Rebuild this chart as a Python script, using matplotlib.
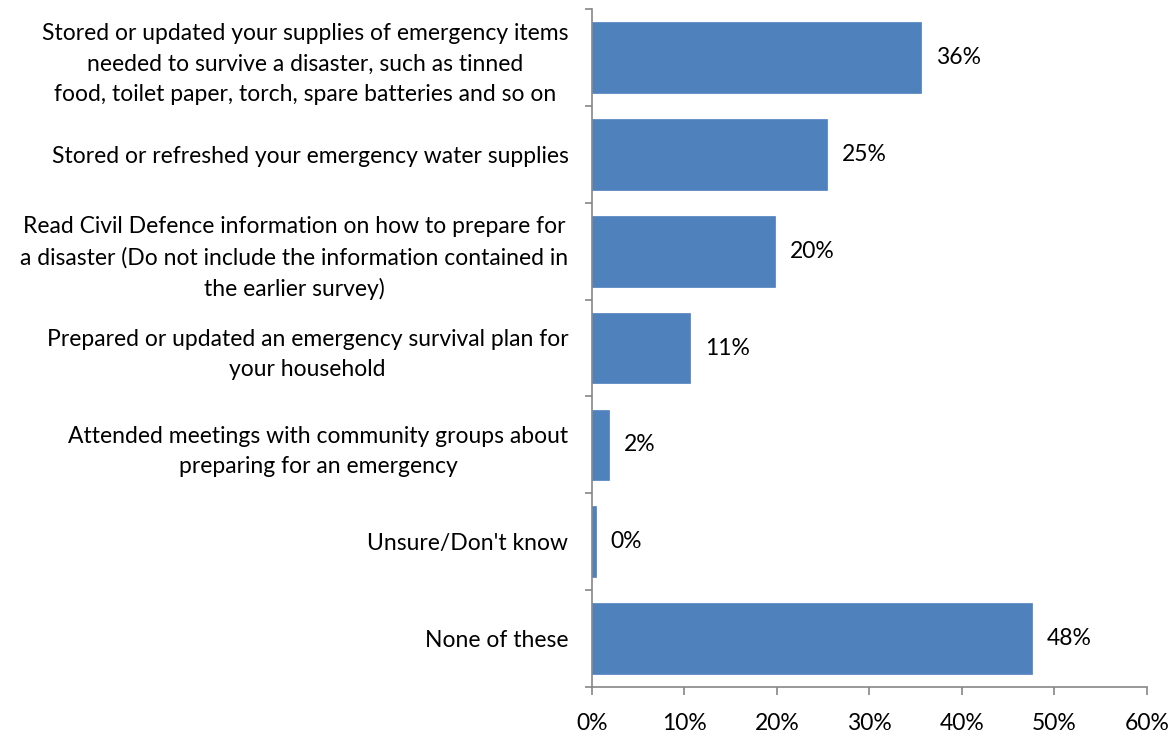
import numpy as np
import matplotlib.pyplot as plt
from matplotlib.ticker import FixedLocator, PercentFormatter

# Survey answers (top to bottom as shown)
categories = [
    "Stored or updated your supplies of emergency items\nneeded to survive a disaster, such as tinned\nfood, toilet paper, torch, spare batteries and so on",
    "Stored or refreshed your emergency water supplies",
    "Read Civil Defence information on how to prepare for\na disaster (Do not include the information contained in\nthe earlier survey)",
    "Prepared or updated an emergency survival plan for\nyour household",
    "Attended meetings with community groups about\npreparing for an emergency",
    "Unsure/Don't know",
    "None of these",
]
values = [35.6, 25.4, 19.8, 10.6, 1.8, 0.4, 47.6]
value_labels = ["36%", "25%", "20%", "11%", "2%", "0%", "48%"]
x_ticks = [0, 10, 20, 30, 40, 50, 60]

plt.rcParams['font.family'] = ['Lato', 'DejaVu Sans']
fs = 16.5

fig = plt.figure(figsize=(11.76, 7.4), dpi=100)
ax = fig.add_axes([0.5034, 0.0716, 0.4719, 0.9162])

n = len(categories)
ypos = np.arange(n)
ax.barh(ypos, values, height=0.73, color='#4F81BD', edgecolor='#4F81BD', linewidth=0.5)

for y, v, lab in zip(ypos, values, value_labels):
    ax.text(v + 1.6, y, lab, va='center', ha='left', fontsize=fs, color='black')

ax.set_xlim(0, 60)
ax.set_ylim(n - 0.5, -0.5)

ax.set_yticks(ypos)
ax.set_yticklabels(categories, fontsize=fs, multialignment='center', linespacing=1.55)
ax.tick_params(axis='y', which='major', length=0, pad=17)
ax.yaxis.set_minor_locator(FixedLocator(np.arange(-0.5, n, 1.0)))
ax.tick_params(axis='y', which='minor', length=5, width=1.2, color='#868686', direction='out')

ax.set_xticks(x_ticks)
ax.xaxis.set_major_formatter(PercentFormatter(decimals=0))
ax.tick_params(axis='x', length=6, width=1.2, color='#868686', direction='out', pad=13, labelsize=fs)

for s in ['top', 'right']:
    ax.spines[s].set_visible(False)
for s in ['left', 'bottom']:
    ax.spines[s].set_color('#868686')
    ax.spines[s].set_linewidth(1.2)

fig.savefig('out.png', dpi=100)
